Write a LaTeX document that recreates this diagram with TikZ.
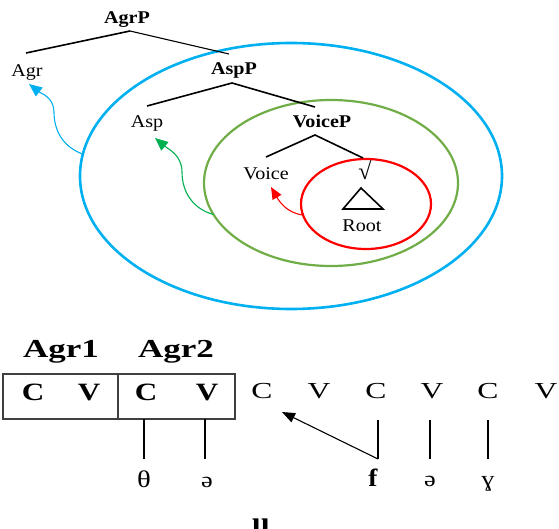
\documentclass[tikz,border=0pt]{standalone}
\usepackage{fontspec}
\setmainfont{Liberation Serif}
\usepackage{graphicx}
\usetikzlibrary{shapes.geometric,arrows.meta}
\definecolor{cblue}{RGB}{0,176,240}
\definecolor{cgreen}{RGB}{112,173,71}
\definecolor{carrowgreen}{RGB}{0,176,80}
\definecolor{cred}{RGB}{255,0,0}
\newcommand{\sx}[2]{\scalebox{#1}[1]{#2}}
\begin{document}
\begin{tikzpicture}[x=1bp,y=-1bp,
  lab/.style={inner sep=0pt,anchor=base},
  toplab/.style={lab,font=\fontsize{18}{20}\selectfont},
  branch/.style={line width=1.6bp,black},
  thinbranch/.style={line width=1.1bp,black},
  ring/.style={ellipse,draw,inner sep=0pt,outer sep=0pt},
  move/.style={line width=1.1bp,-{Triangle[length=13bp,width=11bp]}},
  cvbold/.style={lab,font=\fontsize{25}{30}\selectfont\bfseries},
  cvreg/.style={lab,font=\fontsize{23}{28}\selectfont},
  ipa/.style={lab,font=\fontsize{22}{26}\selectfont},
  stem/.style={line width=1.5bp,black},
  cell/.style={draw=black!75,line width=1.2bp,minimum height=45bp,inner sep=0pt}
]
\path[use as bounding box] (0,0) rectangle (559,529);

% ---------- rings ----------
\node[ring,draw=cblue,line width=2.6bp,minimum width=422bp,minimum height=266bp] (blueE) at (291,176) {};
\node[ring,draw=cgreen,line width=2.2bp,minimum width=254bp,minimum height=166bp] (greenE) at (331,183) {};
\node[ring,draw=cred,line width=2.2bp,minimum width=130bp,minimum height=90bp] (redE) at (366,204) {};

% ---------- tree ----------
\node[toplab] (AgrP) at (127,24) {\sx{1.12}{\bfseries AgrP}};
\node[toplab] (Agr) at (27,77) {\sx{1.12}{Agr}};
\node[toplab] (AspP) at (234,75) {\sx{1.12}{\bfseries AspP}};
\node[toplab] (Asp) at (147,128) {\sx{1.12}{Asp}};
\node[toplab] (VoiceP) at (322,128) {\sx{1.12}{\bfseries VoiceP}};
\node[toplab] (Voice) at (266,180) {\sx{1.12}{Voice}};
\node[inner sep=0pt,font=\fontsize{24}{28}\selectfont] (sqrt) at (365,170) {√};
\node[toplab] (Root) at (362,231) {\sx{1.12}{Root}};

\coordinate (a0) at (130,31); \coordinate (a1) at (26,53); \coordinate (a2) at (229,54);
\coordinate (b0) at (232,83); \coordinate (b1) at (147,106); \coordinate (b2) at (315,107);
\coordinate (c0) at (315,135); \coordinate (c1) at (266,157); \coordinate (c2) at (363,158);
\draw[branch] (a0) -- (a1);
\draw[thinbranch] (a0) -- (a2);
\draw[branch] (b1) -- (b0) -- (b2);
\draw[branch] (c1) -- (c0) -- (c2);
\coordinate (t1) at (361,188); \coordinate (t2) at (343,209); \coordinate (t3) at (383,209);
\draw[branch,line join=miter] (t1) -- (t2) -- (t3) -- cycle;

% ---------- movement arrows ----------
\coordinate (agrTip) at (29,84);
\coordinate (aspTip) at (155,138);
\coordinate (voiceTip) at (271,187);
\draw[move,cblue] (blueE.174) to[out=160,in=-90] (54,112) to[out=90,in=-38] (agrTip);
\draw[move,carrowgreen] (greenE.195) to[out=165,in=-90] (182,172) to[out=90,in=-40] (aspTip);
\draw[move,cred,-{Triangle[length=12bp,width=10bp]}] (redE.190) to[out=172,in=-60] (voiceTip);

% ---------- CV tier ----------
\node[lab,font=\fontsize{26}{30}\selectfont\bfseries] (Agr1) at (61,357) {\sx{1.35}{Agr1}};
\node[lab,font=\fontsize{26}{30}\selectfont\bfseries] (Agr2) at (176,357) {\sx{1.35}{Agr2}};
\node[cell,minimum width=115bp] (box1) at (60.5,396.5) {};
\node[cell,minimum width=117bp] (box2) at (176.5,396.5) {};

\node[cvbold] (C1) at (33,400) {\sx{1.25}{C}};
\node[cvbold] (V1) at (89,400) {\sx{1.25}{V}};
\node[cvbold] (C2) at (146,400) {\sx{1.25}{C}};
\node[cvbold] (V2) at (207,400) {\sx{1.25}{V}};
\node[cvreg] (C3) at (262,398) {\sx{1.38}{C}};
\node[cvreg] (V3) at (319,398) {\sx{1.38}{V}};
\node[cvreg] (C4) at (376,398) {\sx{1.38}{C}};
\node[cvreg] (V4) at (432,398) {\sx{1.38}{V}};
\node[cvreg] (C5) at (488,398) {\sx{1.38}{C}};
\node[cvreg] (V5) at (546,398) {\sx{1.38}{V}};

\node[ipa,font=\fontsize{24}{28}\selectfont] (th) at (144,487) {\sx{1.2}{θ}};
\node[ipa] (sc1) at (207,487) {\sx{1.2}{ə}};
\node[ipa,font=\fontsize{25}{28}\selectfont\bfseries] (ff) at (373,486) {\sx{1.1}{f}};
\node[ipa] (sc2) at (430,486) {\sx{1.2}{ə}};
\node[ipa] (gam) at (488,486) {\sx{1.2}{ɣ}};

\coordinate (s1t) at (144,419); \coordinate (s1b) at (144,459);
\coordinate (s2t) at (205,419); \coordinate (s2b) at (205,459);
\coordinate (s3t) at (378,420); \coordinate (s3b) at (378,459);
\coordinate (s4t) at (430,420); \coordinate (s4b) at (430,459);
\coordinate (s5t) at (488,420); \coordinate (s5b) at (488,459);
\draw[stem] (s1t) -- (s1b);
\draw[stem] (s2t) -- (s2b);
\draw[stem] (s3t) -- (s3b);
\draw[stem] (s4t) -- (s4b);
\draw[stem] (s5t) -- (s5b);

\coordinate (cvTip) at (282,412);
\draw[line width=1.1bp,-{Triangle[length=13bp,width=10bp]}] (s3b) -- (cvTip);

\node[lab,font=\fontsize{32}{36}\selectfont\bfseries] (uu) at (261,533) {u};
\end{tikzpicture}
\end{document}
